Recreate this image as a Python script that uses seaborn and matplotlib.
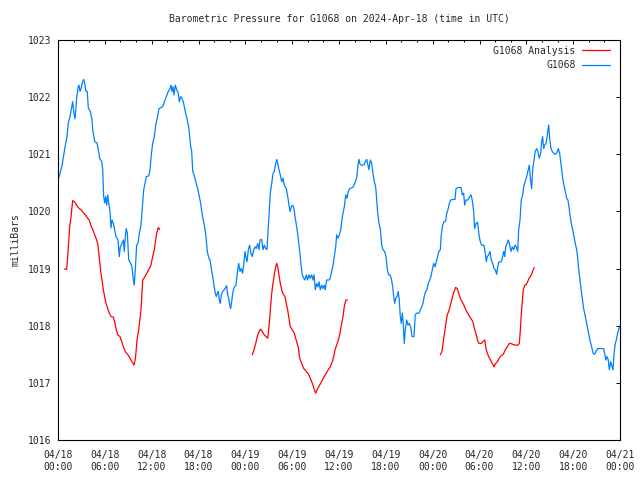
import matplotlib
matplotlib.use("Agg")
import matplotlib.pyplot as plt
from matplotlib.ticker import MultipleLocator
import pandas as pd
import seaborn as sns

# ---- data (hours since 2024-04-18 00:00 UTC, millibars) ----
obs_hours = [0.13,0.51,0.77,0.94,1.15,1.32,1.54,1.76,1.88,2.01,2.18,2.40,2.56,2.69,2.82,2.98,3.16,3.29,3.42,3.55,3.75,3.88,4.14,4.36,4.45,4.70,5.00,5.16,5.34,5.60,5.73,5.85,5.98,6.11,6.24,6.37,6.49,6.66,6.79,6.92,7.08,7.26,7.43,7.69,7.85,7.98,8.20,8.37,8.49,8.62,8.75,8.88,9.06,9.31,9.48,9.65,9.77,9.90,10.08,10.25,10.42,10.63,10.80,10.98,11.15,11.31,11.62,11.79,11.95,12.13,12.34,12.55,12.72,12.94,13.28,13.49,13.71,13.93,14.13,14.35,14.48,14.60,14.73,14.86,15.03,15.21,15.41,15.54,15.72,15.89,16.05,16.23,16.40,16.56,16.74,16.87,17.00,17.13,17.26,17.42,17.59,17.77,17.93,18.10,18.28,18.45,18.61,18.79,18.96,19.13,19.31,19.47,19.64,19.82,19.98,20.15,20.28,20.41,20.54,20.66,20.79,20.92,21.10,21.30,21.48,21.61,21.74,21.87,22.00,22.12,22.25,22.42,22.59,22.80,22.97,23.15,23.32,23.48,23.66,23.83,23.96,24.06,24.22,24.38,24.56,24.72,24.89,25.07,25.24,25.40,25.58,25.75,25.88,26.09,26.26,26.43,26.61,26.77,26.94,27.07,27.20,27.38,27.54,27.71,27.84,28.02,28.15,28.31,28.48,28.66,28.82,28.99,29.25,29.43,29.59,29.72,29.89,30.07,30.23,30.40,30.58,30.75,30.87,31.00,31.13,31.30,31.48,31.64,31.81,31.99,32.15,32.32,32.50,32.67,32.80,32.96,33.14,33.31,33.44,33.60,33.78,33.95,34.11,34.24,34.42,34.72,34.88,35.06,35.23,35.40,35.58,35.70,35.87,36.04,36.22,36.34,36.51,36.68,36.86,37.02,37.19,37.37,37.75,37.92,38.09,38.26,38.43,38.56,38.69,38.86,39.20,39.37,39.55,39.71,39.84,40.01,40.19,40.35,40.52,40.70,40.83,40.96,41.12,41.29,41.47,41.63,41.85,42.02,42.19,42.36,42.53,42.70,42.88,43.01,43.13,43.26,43.43,43.59,43.72,43.85,43.98,44.11,44.23,44.36,44.49,44.67,44.84,45.00,45.18,45.35,45.61,45.77,45.95,46.25,46.41,46.59,46.76,46.92,47.10,47.27,47.44,47.62,47.78,47.95,48.13,48.30,48.46,48.64,48.81,48.98,49.10,49.28,49.45,49.67,49.80,49.96,50.13,50.31,50.64,50.86,50.99,51.33,51.63,51.79,51.97,52.10,52.27,52.52,52.74,52.91,53.07,53.25,53.38,53.55,53.77,53.93,54.10,54.28,54.57,54.74,54.87,55.00,55.18,55.34,55.51,55.69,55.86,56.02,56.20,56.33,56.46,56.79,56.97,57.10,57.23,57.35,57.52,57.69,57.87,58.03,58.20,58.38,58.55,58.71,58.89,59.02,59.19,59.35,59.53,59.70,59.86,60.04,60.25,60.38,60.51,60.68,60.81,60.98,61.14,61.32,61.49,61.66,61.84,61.96,62.09,62.22,62.35,62.51,62.64,62.77,62.86,62.99,63.16,63.32,63.50,63.67,63.89,64.09,64.27,64.40,64.53,64.66,64.82,64.99,65.17,65.33,65.46,65.59,65.76,65.94,66.10,66.27,66.45,66.58,66.70,66.87,67.00,67.17,67.34,67.51,67.68,67.86,68.02,68.19,68.37,68.54,68.76,68.92,69.14,69.65,69.91,70.07,70.20,70.33,70.50,70.63,70.80,70.93,71.10,71.23,71.36,71.52,71.70,71.87,72.00]
obs_mbar = [1020.60,1020.80,1021.02,1021.16,1021.31,1021.55,1021.66,1021.83,1021.92,1021.75,1021.62,1021.99,1022.16,1022.21,1022.10,1022.17,1022.27,1022.31,1022.25,1022.11,1022.10,1021.81,1021.75,1021.60,1021.43,1021.22,1021.20,1021.08,1020.93,1020.87,1020.73,1020.26,1020.15,1020.26,1020.11,1020.29,1020.15,1020.00,1019.71,1019.85,1019.80,1019.68,1019.56,1019.50,1019.21,1019.38,1019.44,1019.50,1019.30,1019.56,1019.70,1019.62,1019.15,1019.09,1019.03,1018.80,1018.71,1018.98,1019.41,1019.44,1019.62,1019.76,1020.05,1020.38,1020.49,1020.61,1020.62,1020.73,1020.99,1021.19,1021.31,1021.54,1021.63,1021.80,1021.82,1021.86,1021.95,1022.03,1022.10,1022.15,1022.21,1022.10,1022.18,1022.04,1022.21,1022.13,1022.07,1021.92,1022.01,1021.98,1021.92,1021.80,1021.69,1021.60,1021.48,1021.31,1021.13,1021.05,1020.70,1020.64,1020.55,1020.46,1020.38,1020.26,1020.14,1019.97,1019.85,1019.73,1019.56,1019.30,1019.19,1019.15,1019.00,1018.86,1018.71,1018.57,1018.51,1018.57,1018.60,1018.45,1018.39,1018.54,1018.60,1018.63,1018.67,1018.70,1018.54,1018.48,1018.36,1018.30,1018.42,1018.60,1018.68,1018.71,1018.92,1019.09,1018.95,1019.00,1018.92,1019.12,1019.30,1019.21,1019.12,1019.33,1019.41,1019.27,1019.21,1019.33,1019.38,1019.35,1019.44,1019.33,1019.50,1019.51,1019.33,1019.41,1019.35,1019.33,1019.73,1020.05,1020.32,1020.49,1020.66,1020.70,1020.81,1020.91,1020.84,1020.73,1020.64,1020.52,1020.58,1020.46,1020.40,1020.26,1020.11,1020.00,1020.08,1020.11,1020.05,1019.88,1019.73,1019.56,1019.41,1019.27,1019.06,1018.89,1018.83,1018.80,1018.89,1018.80,1018.89,1018.83,1018.89,1018.80,1018.89,1018.63,1018.74,1018.68,1018.77,1018.63,1018.71,1018.65,1018.71,1018.63,1018.80,1018.80,1018.83,1018.95,1019.06,1019.21,1019.38,1019.59,1019.53,1019.59,1019.68,1019.82,1019.97,1020.08,1020.29,1020.23,1020.35,1020.40,1020.42,1020.46,1020.52,1020.58,1020.81,1020.91,1020.83,1020.81,1020.81,1020.87,1020.91,1020.81,1020.73,1020.90,1020.84,1020.67,1020.52,1020.43,1020.20,1019.97,1019.79,1019.70,1019.41,1019.33,1019.30,1019.21,1018.98,1018.89,1018.89,1018.83,1018.68,1018.51,1018.39,1018.48,1018.51,1018.60,1018.45,1018.16,1018.04,1018.22,1018.04,1017.69,1017.93,1018.10,1018.01,1018.04,1017.98,1017.81,1017.81,1018.19,1018.22,1018.22,1018.27,1018.33,1018.39,1018.51,1018.60,1018.63,1018.74,1018.80,1018.86,1018.98,1019.09,1019.03,1019.12,1019.21,1019.30,1019.33,1019.59,1019.76,1019.82,1019.83,1019.97,1020.03,1020.14,1020.20,1020.21,1020.21,1020.40,1020.42,1020.42,1020.29,1020.32,1020.11,1020.20,1020.20,1020.26,1020.29,1020.20,1020.00,1019.70,1019.79,1019.81,1019.59,1019.47,1019.41,1019.41,1019.27,1019.12,1019.21,1019.24,1019.30,1019.15,1019.09,1019.00,1018.98,1018.90,1019.03,1019.11,1019.12,1019.21,1019.30,1019.21,1019.38,1019.44,1019.50,1019.41,1019.30,1019.38,1019.33,1019.41,1019.38,1019.30,1019.68,1019.85,1020.20,1020.29,1020.46,1020.52,1020.61,1020.73,1020.81,1020.58,1020.40,1020.73,1020.90,1021.05,1021.10,1021.05,1020.93,1021.02,1021.22,1021.31,1021.10,1021.16,1021.19,1021.28,1021.43,1021.51,1021.28,1021.10,1021.05,1021.02,1021.00,1021.02,1021.10,1021.02,1020.87,1020.73,1020.58,1020.46,1020.35,1020.23,1020.20,1020.08,1019.94,1019.79,1019.68,1019.56,1019.44,1019.33,1019.18,1019.00,1018.80,1018.65,1018.48,1018.30,1018.19,1018.07,1017.95,1017.84,1017.72,1017.63,1017.52,1017.50,1017.55,1017.60,1017.60,1017.60,1017.49,1017.40,1017.46,1017.40,1017.23,1017.37,1017.31,1017.23,1017.49,1017.66,1017.75,1017.87,1017.95,1018.00]

ana1_hours = [0.81,1.11,1.24,1.37,1.50,1.67,1.88,2.09,2.31,2.52,2.73,2.95,3.24,3.50,3.80,4.01,4.19,4.45,4.65,4.87,5.09,5.21,5.34,5.47,5.64,5.80,5.98,6.15,6.37,6.57,6.79,7.08,7.26,7.43,7.65,7.94,8.16,8.37,8.65,8.97,9.35,9.74,9.93,10.12,10.34,10.63,10.85,11.06,11.27,11.49,11.70,11.91,12.13,12.34,12.49,12.64,12.85,13.03]
ana1_mbar = [1018.99,1018.99,1019.21,1019.47,1019.73,1019.91,1020.19,1020.17,1020.13,1020.08,1020.05,1020.03,1019.98,1019.94,1019.88,1019.85,1019.76,1019.68,1019.61,1019.53,1019.44,1019.30,1019.12,1018.95,1018.80,1018.63,1018.51,1018.39,1018.30,1018.22,1018.16,1018.15,1018.07,1017.95,1017.84,1017.81,1017.72,1017.63,1017.54,1017.49,1017.40,1017.31,1017.44,1017.75,1017.93,1018.27,1018.80,1018.84,1018.89,1018.95,1019.00,1019.06,1019.21,1019.33,1019.48,1019.62,1019.72,1019.68]

ana2_hours = [24.89,25.11,25.33,25.53,25.75,25.97,26.17,26.43,26.65,26.86,27.03,27.20,27.38,27.54,27.71,27.89,28.02,28.15,28.31,28.48,28.66,28.82,29.08,29.25,29.43,29.59,29.76,30.02,30.27,30.45,30.62,30.78,30.96,31.13,31.30,31.48,31.64,31.81,31.99,32.15,32.32,32.50,32.67,32.83,33.01,33.18,33.35,33.60,33.86,34.11,34.37,34.63,34.88,35.14,35.32,35.49,35.70,35.91,36.13,36.34,36.51,36.70,36.89,37.06]
ana2_mbar = [1017.49,1017.58,1017.69,1017.81,1017.90,1017.94,1017.90,1017.84,1017.81,1017.78,1017.98,1018.27,1018.57,1018.74,1018.89,1019.03,1019.09,1019.03,1018.89,1018.74,1018.63,1018.56,1018.51,1018.39,1018.27,1018.13,1017.98,1017.93,1017.87,1017.78,1017.70,1017.63,1017.43,1017.37,1017.31,1017.25,1017.23,1017.20,1017.17,1017.14,1017.08,1017.02,1016.96,1016.88,1016.82,1016.88,1016.92,1016.98,1017.05,1017.11,1017.17,1017.23,1017.28,1017.37,1017.46,1017.58,1017.66,1017.75,1017.87,1018.04,1018.16,1018.36,1018.45,1018.45]

ana3_hours = [48.98,49.19,49.36,49.54,49.70,49.87,50.05,50.22,50.38,50.56,50.73,50.95,51.15,51.33,51.50,51.76,51.97,52.18,52.36,52.61,52.87,53.12,53.29,53.46,53.64,53.80,53.97,54.23,54.41,54.67,54.83,55.00,55.18,55.34,55.51,55.69,55.86,56.02,56.28,56.53,56.79,57.05,57.30,57.56,57.82,57.99,58.33,58.58,58.93,59.10,59.22,59.35,59.48,59.61,59.79,59.99,60.17,60.34,60.51,60.68,60.85,61.02]
ana3_mbar = [1017.49,1017.55,1017.72,1017.90,1018.04,1018.19,1018.25,1018.33,1018.42,1018.51,1018.60,1018.67,1018.65,1018.57,1018.49,1018.42,1018.37,1018.30,1018.25,1018.19,1018.13,1018.08,1017.98,1017.90,1017.81,1017.72,1017.69,1017.69,1017.72,1017.75,1017.60,1017.52,1017.46,1017.42,1017.37,1017.33,1017.28,1017.33,1017.37,1017.43,1017.48,1017.50,1017.58,1017.63,1017.69,1017.69,1017.67,1017.66,1017.66,1017.69,1017.90,1018.19,1018.42,1018.63,1018.71,1018.72,1018.77,1018.83,1018.86,1018.90,1018.97,1019.02]

tick_hours = [0, 6, 12, 18, 24, 30, 36, 42, 48, 54, 60, 66, 72]
tick_labels = ["04/18\n00:00", "04/18\n06:00", "04/18\n12:00", "04/18\n18:00",
               "04/19\n00:00", "04/19\n06:00", "04/19\n12:00", "04/19\n18:00",
               "04/20\n00:00", "04/20\n06:00", "04/20\n12:00", "04/20\n18:00",
               "04/21\n00:00"]
y_ticks = [1016, 1017, 1018, 1019, 1020, 1021, 1022, 1023]

title = "Barometric Pressure for G1068 on 2024-Apr-18 (time in UTC)"
ylabel = "milliBars"
name_obs = "G1068"
name_ana = "G1068 Analysis"

# ---- style ----
sns.set_style("white")
plt.rcParams["font.family"] = ["DejaVu Sans Mono", "DejaVu Sans"]
plt.rcParams["font.size"] = 7

fig = plt.figure(figsize=(6.4, 4.8), dpi=100)
ax = fig.add_axes([58 / 640, 40 / 480, 562 / 640, 400 / 480])

red = "#ff0000"
blue = "#0080ff"
lw = 0.9

ana_segments = [(ana1_hours, ana1_mbar), (ana2_hours, ana2_mbar), (ana3_hours, ana3_mbar)]
for i, (hh, mm) in enumerate(ana_segments):
    df = pd.DataFrame({"hours": hh, "mbar": mm})
    sns.lineplot(data=df, x="hours", y="mbar", ax=ax, color=red, lw=lw,
                 estimator=None, sort=False,
                 label=name_ana if i == 0 else None, legend=False)

df_obs = pd.DataFrame({"hours": obs_hours, "mbar": obs_mbar})
sns.lineplot(data=df_obs, x="hours", y="mbar", ax=ax, color=blue, lw=lw,
             estimator=None, sort=False, label=name_obs, legend=False)

ax.set_xlim(0, 72)
ax.set_ylim(1016, 1023)
ax.set_xticks(tick_hours)
ax.set_xticklabels(tick_labels, fontsize=7, linespacing=1.25)
ax.xaxis.set_minor_locator(MultipleLocator(2))
ax.set_yticks(y_ticks)
ax.set_yticklabels([str(v) for v in y_ticks], fontsize=7)

ax.tick_params(axis="both", which="both", direction="in", top=True, right=True,
               color="black", width=0.7)
ax.tick_params(axis="both", which="major", length=3.2, pad=5)
ax.tick_params(axis="x", which="minor", length=1.6)
ax.tick_params(axis="x", which="major", pad=7)

for s in ax.spines.values():
    s.set_visible(True)
    s.set_color("black")
    s.set_linewidth(0.8)

ax.set_xlabel("")
ax.set_ylabel(ylabel, fontsize=7, labelpad=5)
ax.set_title(title, fontsize=7, pad=13)
ax.grid(False)

handles, labels = ax.get_legend_handles_labels()
ax.legend(handles, labels, loc="upper right", bbox_to_anchor=(0.983, 0.986),
          frameon=False, markerfirst=False,
          fontsize=7, handlelength=2.9, handletextpad=0.7, labelspacing=0.45,
          borderpad=0.0, borderaxespad=0.0)

fig.savefig("out.png", dpi=100)
